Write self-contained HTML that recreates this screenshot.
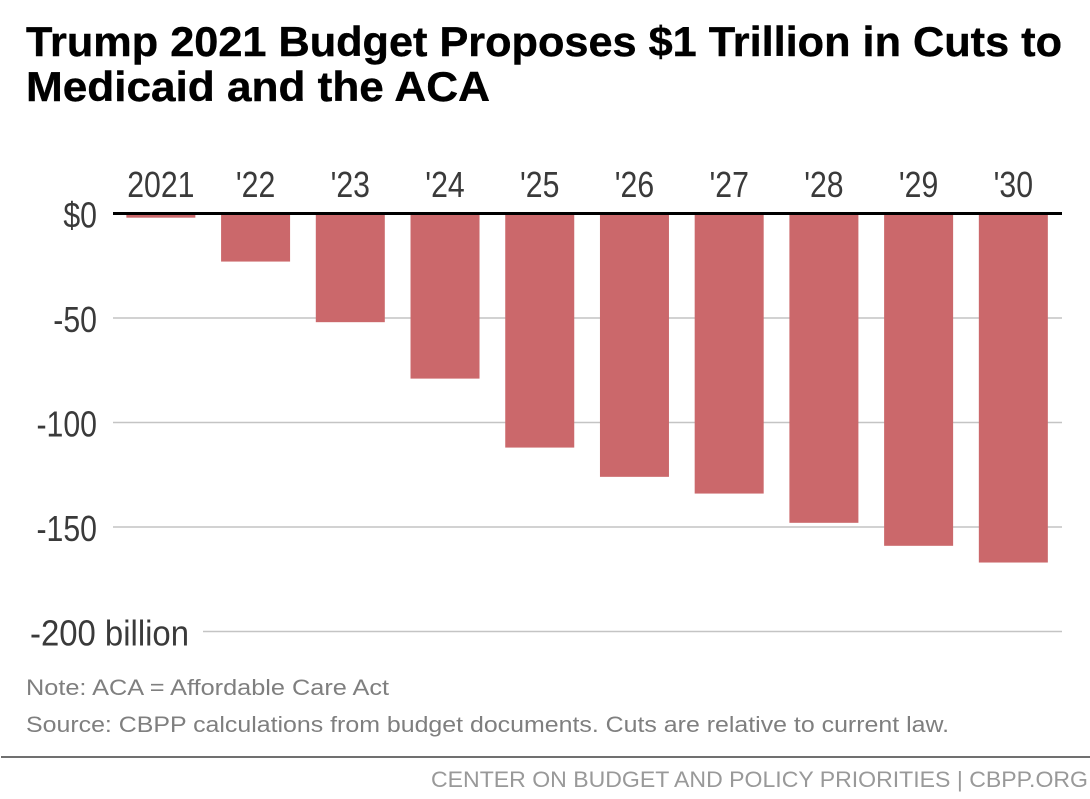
<!DOCTYPE html>
<html lang="en">
<head>
<meta charset="utf-8">
<title>Trump 2021 Budget Proposes $1 Trillion in Cuts to Medicaid and the ACA</title>
<style>
html,body{margin:0;padding:0;background:#fff;}
body{width:1090px;height:799px;overflow:hidden;}
svg{display:block;}
text{font-family:"Liberation Sans",sans-serif;}
</style>
</head>
<body>
<svg id="chart" width="1090" height="799" viewBox="0 0 1090 799" xmlns="http://www.w3.org/2000/svg">
  <rect width="1090" height="799" fill="#ffffff"/>
  <text x="26" y="56" font-size="42" font-weight="700" fill="#000" stroke="#000" stroke-width="0.4" textLength="1036" lengthAdjust="spacingAndGlyphs">Trump 2021 Budget Proposes $1 Trillion in Cuts to</text>
  <text x="26" y="101" font-size="42" font-weight="700" fill="#000" stroke="#000" stroke-width="0.4" textLength="464" lengthAdjust="spacingAndGlyphs">Medicaid and the ACA</text>
  <g id="grid"></g>
  <g id="bars"></g>
  <g id="xlabels"></g>
  <g id="ylabels"></g>
  <text x="26" y="695" font-size="22" fill="#7f7f7f" textLength="363" lengthAdjust="spacingAndGlyphs">Note: ACA = Affordable Care Act</text>
  <text x="26" y="732" font-size="22" fill="#7f7f7f" textLength="923" lengthAdjust="spacingAndGlyphs">Source: CBPP calculations from budget documents. Cuts are relative to current law.</text>
  <rect x="1" y="756" width="1089" height="2" fill="#707070"/>
  <text x="431" y="787" font-size="22" fill="#999999" textLength="657" lengthAdjust="spacingAndGlyphs">CENTER ON BUDGET AND POLICY PRIORITIES | CBPP.ORG</text>
</svg>
<script>
const categories = ["2021", "'22", "'23", "'24", "'25", "'26", "'27", "'28", "'29", "'30"];
const cuts = [-2, -23, -52, -79, -112, -126, -134, -148, -159, -167];
const yTicks = [0, -50, -100, -150, -200];
const yTickLabels = ["$0", "-50", "-100", "-150", "-200 billion"];

const NS = "http://www.w3.org/2000/svg";
const plotTop = 213.5;
const pxPerUnit = 2.09;
const firstBandStart = 113.5;
const bandStep = 94.72;
const barWidth = 69;

function yScale(v) { return plotTop - v * pxPerUnit; }
function xBand(i) { return firstBandStart + bandStep * i + (bandStep - barWidth) / 2; }

const gridG = document.getElementById("grid");
const barsG = document.getElementById("bars");
const xG = document.getElementById("xlabels");
const yG = document.getElementById("ylabels");

yTicks.forEach(function (t, i) {
  if (t === 0) return;
  const line = document.createElementNS(NS, "line");
  
  
  const isLast = i === yTicks.length - 1;
  line.setAttribute("x1", isLast ? 203 : 113);
  line.setAttribute("x2", 1062);
  line.setAttribute("y1", yScale(t));
  line.setAttribute("y2", yScale(t));
  line.setAttribute("stroke", "#c4c4c4");
  line.setAttribute("stroke-width", "1.5");
  gridG.appendChild(line);
});

cuts.forEach(function (v, i) {
  const r = document.createElementNS(NS, "rect");
  
  
  r.setAttribute("x", xBand(i));
  r.setAttribute("y", yScale(0));
  r.setAttribute("width", barWidth);
  r.setAttribute("height", yScale(v) - yScale(0));
  r.setAttribute("fill", "#cb686b");
  barsG.appendChild(r);
});

const zero = document.createElementNS(NS, "line");


zero.setAttribute("x1", 113);
zero.setAttribute("x2", 1062);
zero.setAttribute("y1", yScale(0));
zero.setAttribute("y2", yScale(0));
zero.setAttribute("stroke", "#000");
zero.setAttribute("stroke-width", "3");
barsG.appendChild(zero);

categories.forEach(function (c, i) {
  const cx = xBand(i) + barWidth / 2;
  const t = document.createElementNS(NS, "text");
  
  
  t.setAttribute("x", cx);
  t.setAttribute("y", 197);
  t.setAttribute("text-anchor", "middle");
  t.setAttribute("font-size", "36");
  t.setAttribute("fill", "#3a3a3a");
  t.setAttribute("transform", "translate(" + cx + " 0) scale(0.84 1) translate(" + (-cx) + " 0)");
  t.textContent = c;
  xG.appendChild(t);
});

yTicks.forEach(function (v, i) {
  const t = document.createElementNS(NS, "text");
  
  
  const isLast = i === yTicks.length - 1;
  t.setAttribute("y", yScale(v) + 14);
  t.setAttribute("font-size", "36");
  t.setAttribute("fill", "#3a3a3a");
  if (isLast) {
    t.setAttribute("x", 30);
    t.setAttribute("textLength", "159");
    t.setAttribute("lengthAdjust", "spacingAndGlyphs");
  } else {
    t.setAttribute("x", 97);
    t.setAttribute("text-anchor", "end");
    t.setAttribute("transform", "translate(97 0) scale(0.84 1) translate(-97 0)");
  }
  t.textContent = yTickLabels[i];
  yG.appendChild(t);
});
</script>
</body>
</html>
